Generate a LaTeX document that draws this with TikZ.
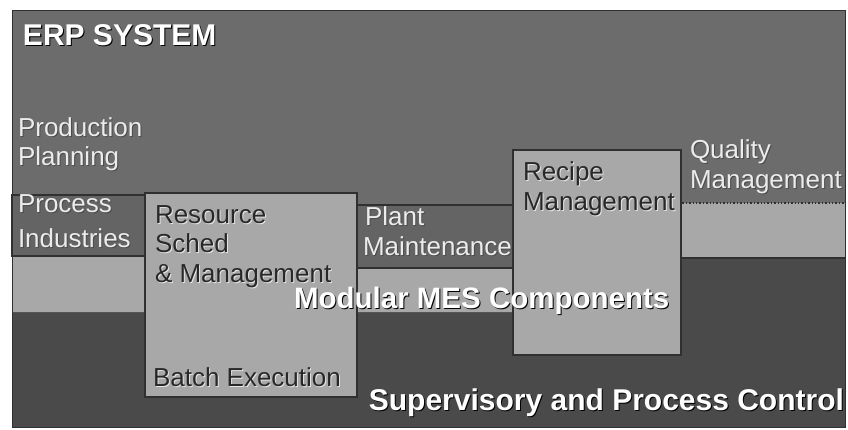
\documentclass[tikz,border=0pt]{standalone}
\usepackage{fontspec}
\setmainfont{Liberation Sans}
\definecolor{erpgray}{RGB}{108,108,108}
\definecolor{mesgray}{RGB}{168,168,168}
\definecolor{ctrlgray}{RGB}{74,74,74}
\definecolor{boxgray}{RGB}{100,100,100}
\definecolor{edgegray}{RGB}{48,48,48}
\definecolor{lighttext}{RGB}{236,236,236}
\definecolor{darktext}{RGB}{40,40,40}
\tikzset{
  lbl/.style={font=\fontsize{26}{30}\selectfont, anchor=base west, inner sep=0pt, outer sep=0pt},
  head/.style={font=\fontsize{30}{34}\selectfont\bfseries, anchor=base west, inner sep=0pt, outer sep=0pt},
  edge/.style={draw=edgegray, line width=1.6pt},
}
% text with a one-pixel drop shadow: style, name, position, text, colour, shadow colour
\newcommand\shtext[6]{%
  \node[#1, text=#6, xshift=1pt, yshift=-1pt] at (#3) {#4};
  \node[#1, text=#5] (#2) at (#3) {#4};}
\begin{document}
\begin{tikzpicture}[x=1pt,y=-1pt]
  % canvas
  \fill[white] (0,0) rectangle (848,429);
  \useasboundingbox (0,0) rectangle (848,429);

  % ERP layer (top)
  \fill[erpgray] (12,10) rectangle (845,427);
  % supervisory layer (bottom)
  \fill[ctrlgray] (12,312) -- (681,312) -- (681,258) -- (845,258)
    -- (845,427) -- (12,427) -- cycle;

  % modular MES band with its stepped boxes
  \fill[mesgray] (12,257) -- (145,257) -- (145,193) -- (357,193) -- (357,268)
    -- (513,268) -- (513,150) -- (681,150) -- (681,203) -- (845,203)
    -- (845,258) -- (681,258) -- (681,355) -- (513,355) -- (513,312)
    -- (357,312) -- (357,397) -- (145,397) -- (145,312) -- (12,312) -- cycle;

  % ERP boxes
  \filldraw[fill=boxgray, edge] (12,195) rectangle (145,256);
  \filldraw[fill=boxgray, edge] (357,205) rectangle (513,268);
  \draw[edgegray, line width=1.4pt, dotted] (681,150) -- (681,203) -- (845,203);

  % MES boxes
  \draw[edge] (145,193) rectangle (357,397);
  \draw[edge] (513,150) rectangle (681,355);
  \draw[edge] (681,258) -- (845,258);

  % frame
  \draw[edgegray, line width=1pt] (12,10) rectangle (845,427);

  % layer titles
  \shtext{head}{erp}{23,45}{ERP SYSTEM}{white}{black}
  \shtext{head, font=\fontsize{29.5}{34}\selectfont\bfseries}{mes}{294,308}{Modular MES Components}{white}{black}
  \shtext{head, anchor=base east}{ctrl}{844,410}{Supervisory and Process Control}{white}{black}

  % ERP functions
  \shtext{lbl}{prod1}{18,136}{Production}{lighttext}{black!70}
  \shtext{lbl}{prod2}{18,165}{Planning}{lighttext}{black!70}
  \shtext{lbl}{proc1}{18,212}{Process}{lighttext}{black!70}
  \shtext{lbl}{proc2}{18,247}{Industries}{lighttext}{black!70}
  \shtext{lbl}{plant1}{365,225}{Plant}{lighttext}{black!70}
  \shtext{lbl}{plant2}{363,255}{Maintenance}{lighttext}{black!70}
  \shtext{lbl}{qual1}{690,158}{Quality}{lighttext}{black!70}
  \shtext{lbl}{qual2}{690,188}{Management}{lighttext}{black!70}

  % MES functions
  \shtext{lbl}{res1}{155,223}{Resource}{darktext}{white!80!gray}
  \shtext{lbl}{res2}{155,252}{Sched}{darktext}{white!80!gray}
  \shtext{lbl}{res3}{155,282}{\& Management}{darktext}{white!80!gray}
  \shtext{lbl}{rec1}{523,180}{Recipe}{darktext}{white!80!gray}
  \shtext{lbl}{rec2}{523,210}{Management}{darktext}{white!80!gray}
  \shtext{lbl}{batch}{153,386}{Batch Execution}{darktext}{white!80!gray}
\end{tikzpicture}
\end{document}
